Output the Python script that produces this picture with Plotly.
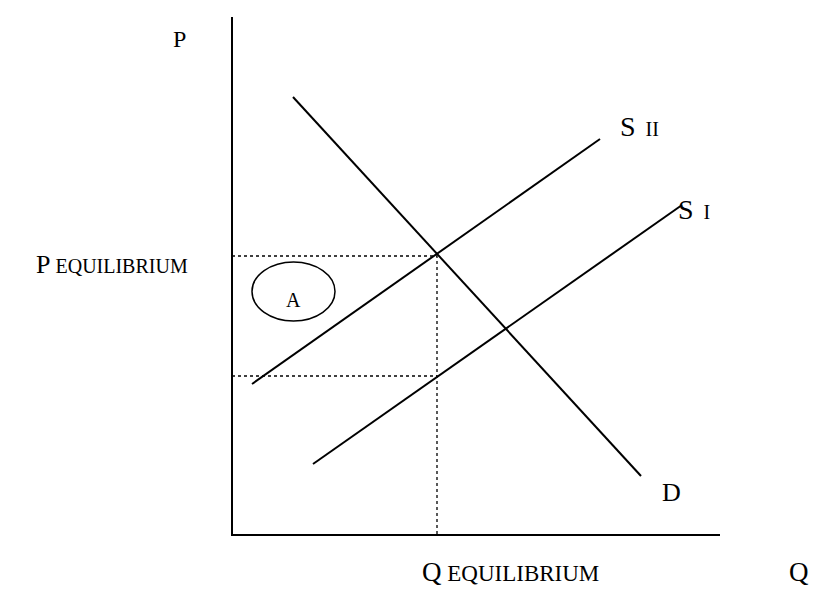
import plotly.graph_objects as go

# supply / demand diagram, coordinates measured from the origin of the axes
demand_q = [61, 409]
demand_p = [438, 59]
supply2_q = [20, 368]
supply2_p = [151, 396]
supply1_q = [81, 450]
supply1_p = [71, 330]

q_eq = 205
p_eq = 279
p_low = 159  # price on S I at Q equilibrium

axis_q = [0, 0, 488]
axis_p = [518, 0, 0]

serif = "Liberation Serif, Times New Roman, serif"

fig = go.Figure()

line = dict(color="black", width=2)
dot = dict(color="black", width=1.3, dash="dot")

fig.add_trace(go.Scatter(x=axis_q, y=axis_p, mode="lines", line=line))
fig.add_trace(go.Scatter(x=demand_q, y=demand_p, mode="lines", line=line))
fig.add_trace(go.Scatter(x=supply2_q, y=supply2_p, mode="lines", line=line))
fig.add_trace(go.Scatter(x=supply1_q, y=supply1_p, mode="lines", line=line))

# dotted guides
fig.add_trace(go.Scatter(x=[0, q_eq, q_eq], y=[p_eq, p_eq, 0], mode="lines", line=dot))
fig.add_trace(go.Scatter(x=[0, q_eq], y=[p_low, p_low], mode="lines", line=dot))

# area A
fig.add_shape(type="circle", x0=20, x1=103, y0=214, y1=273,
              line=dict(color="black", width=1.5))

def label(x, y, big_txt, small_txt="", size=24, size_small=19, anchor="left", gap=" "):
    txt = big_txt
    if small_txt:
        txt += f"<span style='font-size:{size_small}px'>{gap}{small_txt}</span>"
    fig.add_annotation(x=x, y=y, text=txt, showarrow=False,
                       xanchor=anchor, yanchor="middle",
                       font=dict(family=serif, size=size, color="black"))

label(-61, 496, "P")
label(-42, 271, "P", "EQUILIBRIUM", size=26, size_small=20, anchor="right")
label(386, 409, "S", "II", size=28, size_small=20, gap="&nbsp;&nbsp;")
label(444, 326, "S", "I", size=28, size_small=20, gap="&nbsp;&nbsp;")
label(428, 43, "D", size=26)
label(188, -37, "Q", "EQUILIBRIUM", size=27, size_small=23)
label(555, -37, "Q", size=27)
fig.add_annotation(x=61, y=235, text="A", showarrow=False,
                   font=dict(family=serif, size=20, color="black"))

fig.update_layout(
    width=816, height=597,
    margin=dict(l=0, r=0, t=0, b=0),
    plot_bgcolor="white", paper_bgcolor="white",
    showlegend=False,
    xaxis=dict(range=[-232, 584], visible=False),
    yaxis=dict(range=[-62, 535], visible=False),
)

fig.write_html("out.html", config={"displayModeBar": False},
               post_script="document.body.style.margin='0';")
